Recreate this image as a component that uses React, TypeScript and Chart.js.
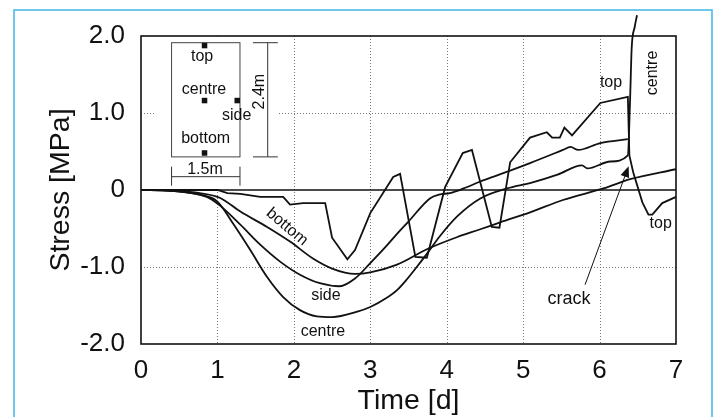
import React, { useEffect, useRef } from "react";
import { Chart, registerables } from "chart.js";

Chart.register(...registerables);

const xTickValues = [0, 1, 2, 3, 4, 5, 6, 7];
const yTickValues = [-2, -1, 0, 1, 2];
const yTickLabels = ["-2.0", "-1.0", "0", "1.0", "2.0"];

const bottomX = [0, 0.4, 0.77, 1.03, 1.3, 1.65, 1.95, 2.25, 2.5, 2.8, 3.0, 3.35, 3.74, 4.14, 4.44, 4.7, 5.09, 5.52, 6.05, 6.4, 7.0];
const bottomY = [0, -0.01, -0.04, -0.1, -0.28, -0.48, -0.67, -0.89, -1.02, -1.09, -1.07, -0.97, -0.77, -0.61, -0.51, -0.42, -0.29, -0.13, 0.02, 0.14, 0.27];

const sideX = [0, 0.4, 0.86, 1.03, 1.3, 1.56, 1.82, 2.08, 2.34, 2.6, 2.8, 3.0, 3.2, 3.35, 3.5, 3.78, 3.9, 4.04, 4.22, 4.44, 4.66, 5.09, 5.52, 5.62, 5.72, 6.01, 6.37];
const sideY = [0, -0.01, -0.09, -0.2, -0.45, -0.71, -0.93, -1.1, -1.21, -1.25, -1.15, -0.95, -0.74, -0.57, -0.41, -0.11, -0.06, -0.04, 0.02, 0.11, 0.19, 0.35, 0.52, 0.56, 0.52, 0.61, 0.66];

const centreX = [0, 0.4, 0.77, 1.0, 1.2, 1.43, 1.65, 1.86, 2.08, 2.3, 2.5, 2.83, 3.0, 3.2, 3.35, 3.47, 3.6, 3.74, 3.91, 4.14, 4.44, 4.79, 5.09, 5.45, 5.77, 5.84, 6.14, 6.37, 6.4, 6.42, 6.46, 6.49];
const centreY = [0, -0.01, -0.06, -0.15, -0.43, -0.78, -1.13, -1.39, -1.56, -1.64, -1.65, -1.58, -1.52, -1.41, -1.3, -1.17, -1.01, -0.83, -0.6, -0.34, -0.11, 0.02, 0.09, 0.2, 0.32, 0.28, 0.37, 0.45, 1.2, 1.84, 2.12, 2.27];

const topX = [0, 0.5, 1.0, 1.13, 1.3, 1.56, 1.86, 1.95, 2.12, 2.41, 2.5, 2.7, 2.8, 3.0, 3.3, 3.39, 3.59, 3.74, 3.98, 4.21, 4.33, 4.59, 4.69, 4.83, 5.09, 5.31, 5.38, 5.48, 5.54, 5.64, 6.01, 6.37, 6.39, 6.44, 6.56, 6.64, 6.69, 6.82, 7.0];
const topY = [0, 0.0, 0.0, -0.04, -0.05, -0.09, -0.09, -0.19, -0.17, -0.17, -0.62, -0.9, -0.78, -0.3, 0.17, 0.21, -0.87, -0.88, 0.04, 0.48, 0.52, -0.48, -0.49, 0.36, 0.68, 0.75, 0.68, 0.68, 0.81, 0.71, 1.13, 1.21, 0.45, 0.23, -0.16, -0.32, -0.32, -0.17, -0.09];

const FONT = "'Liberation Sans', Arial, Helvetica, sans-serif";
const INK = "#111";

const toPoints = (xs: number[], ys: number[]) => xs.map((x, i) => ({ x, y: ys[i] }));

const decorPlugin = {
  id: "decor",
  beforeDraw(chart: any) {
    const ctx = chart.ctx;
    ctx.save();
    ctx.fillStyle = "#fff";
    ctx.fillRect(0, 0, chart.width, chart.height);
    ctx.strokeStyle = "#3fb6e8";
    ctx.lineWidth = 1.5;
    ctx.beginPath();
    ctx.moveTo(14, 430);
    ctx.lineTo(14, 10);
    ctx.lineTo(712, 10);
    ctx.lineTo(712, 430);
    ctx.stroke();
    ctx.restore();
  },
  beforeDatasetsDraw(chart: any) {
    const ctx = chart.ctx;
    const xs = chart.scales.x;
    const ys = chart.scales.y;
    const a = chart.chartArea;
    const px = (v: number) => xs.getPixelForValue(v);
    const py = (v: number) => ys.getPixelForValue(v);
    ctx.save();
    // dotted grid
    ctx.strokeStyle = "#777";
    ctx.lineWidth = 1;
    ctx.setLineDash([1, 2]);
    xTickValues.slice(1, -1).forEach((v) => {
      ctx.beginPath();
      ctx.moveTo(Math.round(px(v)) + 0.5, a.top);
      ctx.lineTo(Math.round(px(v)) + 0.5, a.bottom);
      ctx.stroke();
    });
    [-1, 1].forEach((v) => {
      ctx.beginPath();
      ctx.moveTo(a.left, Math.round(py(v)) + 0.5);
      ctx.lineTo(a.right, Math.round(py(v)) + 0.5);
      ctx.stroke();
    });
    ctx.setLineDash([]);
    // inset white background
    ctx.fillStyle = "#fff";
    ctx.fillRect(px(0.18), a.top + 1, px(1.79) - px(0.18), py(0.04) - a.top - 1);
    // zero line
    ctx.strokeStyle = INK;
    ctx.lineWidth = 1.3;
    ctx.beginPath();
    ctx.moveTo(a.left, py(0));
    ctx.lineTo(a.right, py(0));
    ctx.stroke();

    // inset section diagram
    ctx.strokeStyle = "#444";
    ctx.lineWidth = 1;
    ctx.strokeRect(px(0.4), py(1.913), px(1.295) - px(0.4), py(0.43) - py(1.913));
    ctx.fillStyle = INK;
    const sq = (x: number, y: number) => ctx.fillRect(px(x) - 2.5, py(y) - 2.5, 5.5, 5.5);
    sq(0.828, 1.879);
    sq(0.828, 1.165);
    sq(1.256, 1.165);
    sq(0.828, 0.484);
    ctx.font = `16px ${FONT}`;
    ctx.textAlign = "center";
    ctx.textBaseline = "middle";
    ctx.fillText("top", px(0.8), py(1.73));
    ctx.fillText("centre", px(0.824), py(1.31));
    ctx.fillText("side", px(1.252), py(0.965));
    ctx.fillText("bottom", px(0.846), py(0.67));
    // 2.4m dimension
    ctx.strokeStyle = "#333";
    ctx.lineWidth = 1;
    ctx.beginPath();
    ctx.moveTo(px(1.658), py(1.913));
    ctx.lineTo(px(1.658), py(0.43));
    ctx.moveTo(px(1.465), py(1.913));
    ctx.lineTo(px(1.79), py(1.913));
    ctx.moveTo(px(1.465), py(0.43));
    ctx.lineTo(px(1.79), py(0.43));
    // 1.5m dimension
    ctx.moveTo(px(0.4), py(0.173));
    ctx.lineTo(px(1.295), py(0.173));
    ctx.moveTo(px(0.4), py(0.303));
    ctx.lineTo(px(0.4), py(0.056));
    ctx.moveTo(px(1.295), py(0.303));
    ctx.lineTo(px(1.295), py(0.056));
    ctx.stroke();
    ctx.fillText("1.5m", px(0.837), py(0.269));
    ctx.save();
    ctx.translate(px(1.557), py(1.277));
    ctx.rotate(-Math.PI / 2);
    ctx.fillText("2.4m", 0, 0);
    ctx.restore();
    ctx.restore();
  },
  afterDatasetsDraw(chart: any) {
    const ctx = chart.ctx;
    const xs = chart.scales.x;
    const ys = chart.scales.y;
    const a = chart.chartArea;
    const px = (v: number) => xs.getPixelForValue(v);
    const py = (v: number) => ys.getPixelForValue(v);
    ctx.save();
    // plot frame
    ctx.strokeStyle = INK;
    ctx.lineWidth = 1.6;
    ctx.strokeRect(a.left, a.top, a.right - a.left, a.bottom - a.top);

    ctx.fillStyle = INK;
    ctx.textAlign = "center";
    ctx.textBaseline = "middle";
    ctx.font = `16px ${FONT}`;
    ctx.fillText("side", px(2.42), py(-1.37));
    ctx.fillText("centre", px(2.38), py(-1.84));
    ctx.fillText("top", px(6.15), py(1.4));
    ctx.fillText("top", px(6.8), py(-0.44));
    ctx.save();
    ctx.translate(px(1.91), py(-0.48));
    ctx.rotate((40 * Math.PI) / 180);
    ctx.fillText("bottom", 0, 0);
    ctx.restore();
    ctx.save();
    ctx.translate(px(6.69), py(1.52));
    ctx.rotate(-Math.PI / 2);
    ctx.fillText("centre", 0, 0);
    ctx.restore();
    ctx.font = `18px ${FONT}`;
    ctx.fillText("crack", px(5.6), py(-1.42));
    // arrow
    const x0 = px(5.81), y0 = py(-1.23), x1 = px(6.38), y1 = py(0.31);
    const ang = Math.atan2(y1 - y0, x1 - x0);
    ctx.strokeStyle = INK;
    ctx.lineWidth = 1;
    ctx.beginPath();
    ctx.moveTo(x0, y0);
    ctx.lineTo(x1 - 8 * Math.cos(ang), y1 - 8 * Math.sin(ang));
    ctx.stroke();
    ctx.beginPath();
    ctx.moveTo(x1, y1);
    ctx.lineTo(x1 - 11 * Math.cos(ang) + 4.5 * Math.sin(ang), y1 - 11 * Math.sin(ang) - 4.5 * Math.cos(ang));
    ctx.lineTo(x1 - 11 * Math.cos(ang) - 4.5 * Math.sin(ang), y1 - 11 * Math.sin(ang) + 4.5 * Math.cos(ang));
    ctx.closePath();
    ctx.fill();

    // axis titles
    ctx.font = `28.5px ${FONT}`;
    ctx.fillText("Time [d]", (a.left + a.right) / 2, 401);
    ctx.save();
    ctx.translate(61, (a.top + a.bottom) / 2);
    ctx.rotate(-Math.PI / 2);
    ctx.fillText("Stress [MPa]", 0, 0);
    ctx.restore();
    ctx.restore();
  },
};

export default function App() {
  const ref = useRef<HTMLCanvasElement | null>(null);
  useEffect(() => {
    document.body.style.margin = "0";
    const canvas = ref.current;
    if (!canvas) return;
    const line = (data: any, extra: any = {}) => ({
      data,
      borderColor: INK,
      borderWidth: 1.8,
      pointRadius: 0,
      fill: false,
      ...extra,
    });
    const chart = new Chart(canvas, {
      type: "line",
      data: {
        datasets: [
          line(toPoints(bottomX, bottomY), { label: "bottom", cubicInterpolationMode: "monotone" }),
          line(toPoints(sideX, sideY), { label: "side", cubicInterpolationMode: "monotone" }),
          line(toPoints(centreX, centreY), { label: "centre", cubicInterpolationMode: "monotone", clip: false }),
          line(toPoints(topX, topY), { label: "top", tension: 0 }),
        ],
      },
      options: {
        animation: false,
        responsive: false,
        devicePixelRatio: 1,
        layout: { padding: { left: 0, top: 36, right: 39, bottom: 0 } },
        plugins: { legend: { display: false }, tooltip: { enabled: false } },
        scales: {
          x: {
            type: "linear",
            min: 0,
            max: 7,
            afterBuildTicks: (s: any) => {
              s.ticks = xTickValues.map((v) => ({ value: v }));
            },
            afterFit: (s: any) => {
              s.height = 73;
            },
            ticks: {
              autoSkip: false,
              maxRotation: 0,
              padding: 11,
              color: INK,
              font: { family: FONT, size: 26 },
              callback: (v: any) => String(v),
            },
            grid: { display: false, drawTicks: false },
            border: { display: false },
          },
          y: {
            type: "linear",
            min: -2,
            max: 2,
            afterBuildTicks: (s: any) => {
              s.ticks = yTickValues.map((v) => ({ value: v }));
            },
            afterFit: (s: any) => {
              s.width = 141;
            },
            ticks: {
              padding: 16,
              color: INK,
              font: { family: FONT, size: 26 },
              callback: (v: any) => yTickLabels[yTickValues.indexOf(Number(v))],
            },
            grid: { display: false, drawTicks: false },
            border: { display: false },
          },
        },
      },
      plugins: [decorPlugin],
    } as any);
    return () => chart.destroy();
  }, []);
  return (
    <div style={{ width: 715, height: 417 }}>
      <canvas ref={ref} width={715} height={417} style={{ display: "block", width: 715, height: 417 }} />
    </div>
  );
}
